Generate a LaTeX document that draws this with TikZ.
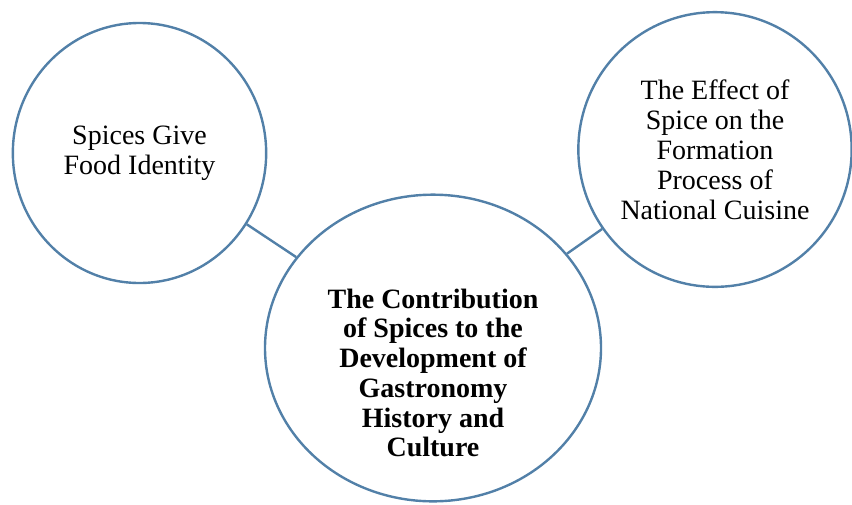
\documentclass[tikz,border=0pt]{standalone}
\usepackage{fontspec}
\setmainfont{Liberation Serif}
\usepackage{xcolor}
\usetikzlibrary{shapes.geometric}

\definecolor{rimblue}{RGB}{82,128,168}

\tikzset{
  bubble/.style={draw=rimblue, line width=1.8pt, ellipse, inner sep=0pt, align=center,
    font=\fontsize{21}{22.5}\selectfont},
  link/.style={draw=rimblue, line width=1.8pt}
}

\begin{document}
\begin{tikzpicture}[x=0.75pt,y=0.75pt,yscale=-1,xscale=1]

		\useasboundingbox (0,0) rectangle (852,504);

		%Shape: Ellipse [left]
		\node [bubble, minimum width=190pt, minimum height=195pt] (identity) at (139.5,153) {Spices Give\\Food Identity};
		%Shape: Ellipse [right]
		\node [bubble, minimum width=205pt, minimum height=206pt] (cuisine) at (715,149.5) {The Effect of\\Spice on the\\Formation\\Process of\\National Cuisine};
		%Shape: Ellipse [centre]
		\node [bubble, minimum width=252pt, minimum height=230pt] (contrib) at (433,348) {};

		% Text Node
		\node [align=center, font=\fontsize{21}{22.3}\selectfont\bfseries] (contribtext) at (433,373) {The Contribution\\of Spices to the\\Development of\\Gastronomy\\History and\\Culture};

		%Straight Lines
		\draw [link] (identity) -- (contrib);
		%Straight Lines
		\draw [link] (cuisine) -- (contrib);

\end{tikzpicture}
\end{document}
